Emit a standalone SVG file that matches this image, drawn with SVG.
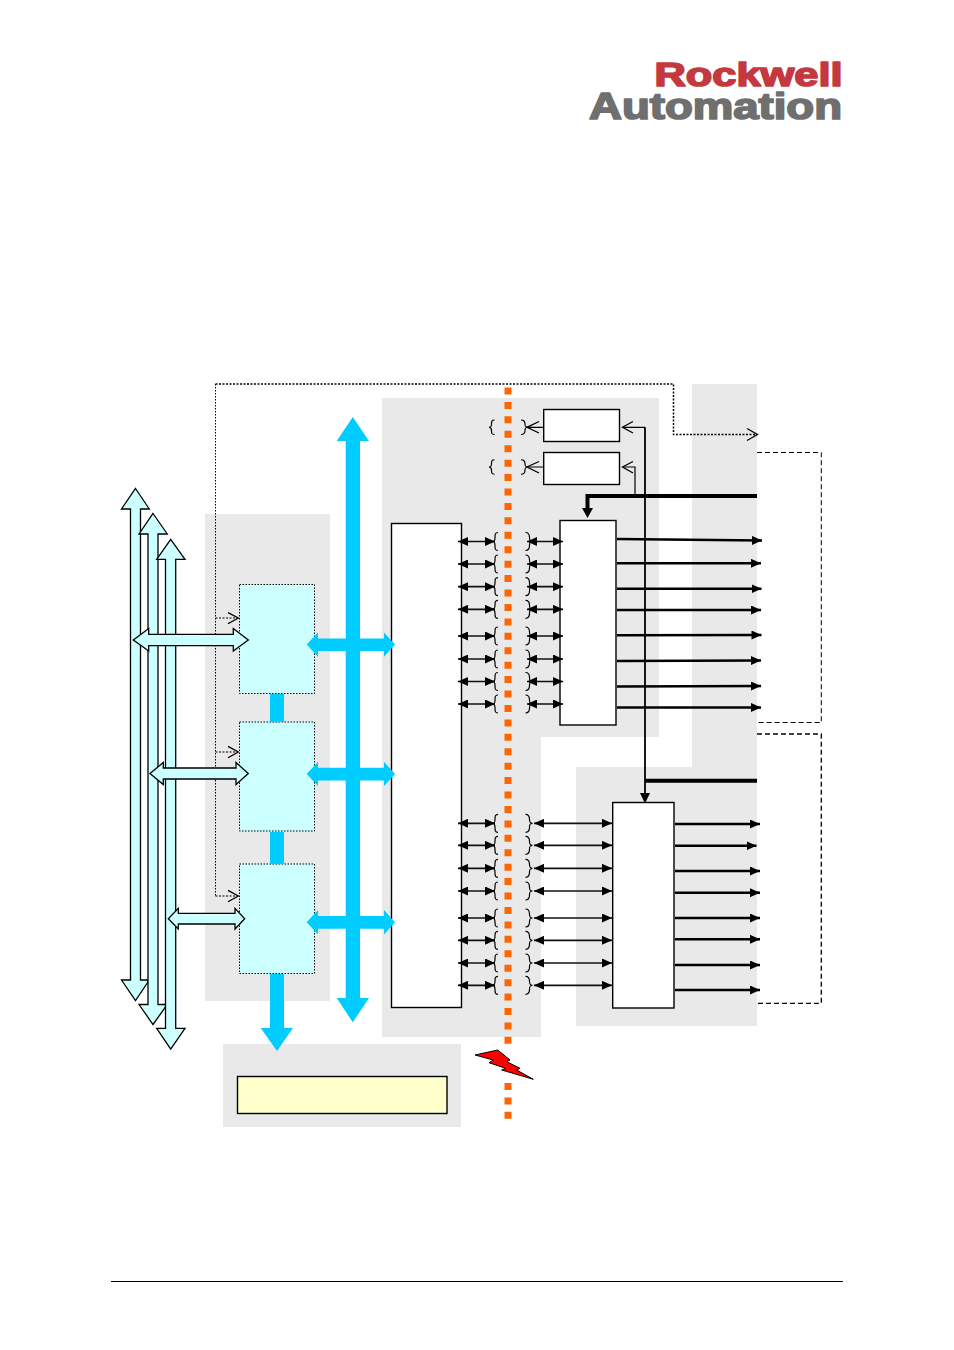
<svg xmlns="http://www.w3.org/2000/svg" width="954" height="1350" viewBox="0 0 954 1350">
<style>
.panel{fill:#e9e9e9}
.box{fill:#fff;stroke:#000;stroke-width:1.4}
.cpu{fill:#ccffff;stroke:#000;stroke-width:1;stroke-dasharray:1.500 1.500}
.bus{fill:#00ccff}
.lightbus{fill:#ccffff;stroke:#000;stroke-width:1.300;stroke-linejoin:miter}
.dbl{fill:none;stroke:#111;stroke-width:1.700;marker-start:url(#solid);marker-end:url(#solid)}
.out{fill:none;stroke:#000;stroke-width:2.500;marker-end:url(#solid)}
.thin{fill:none;stroke:#000;stroke-width:1.200}
.open{fill:none;stroke:#000;stroke-width:1.300}
.dots{fill:none;stroke:#000;stroke-width:1;stroke-dasharray:1.500 1.500}
.dots-heavy{fill:none;stroke:#000;stroke-width:1.500;stroke-dasharray:2 1.500}
.dash{fill:none;stroke:#000;stroke-width:1;stroke-dasharray:5 3}
.barrier{fill:none;stroke:#ff6600;stroke-width:7;stroke-dasharray:7 7.430}
.feed{fill:none;stroke:#000;stroke-width:4}
.brace{fill:none;stroke:#000;stroke-width:1.200}
.logo{font-family:"Liberation Sans",Arial,sans-serif;font-weight:700;stroke-linejoin:round}
</style>
<defs>
<marker id="solid" viewBox="0 0 10 9" refX="10" refY="4.500" markerWidth="10" markerHeight="9" markerUnits="userSpaceOnUse" orient="auto-start-reverse"><path d="M0 0L10 4.500L0 9Z" fill="#000"/></marker>
<path id="bl" d="M498 -9C495 -9 495 -7 495 -4C495 -1 494.500 0 492.500 0C494.500 0 495 1 495 4C495 7 495 9 498 9"/>
<path id="br" d="M525.500 -9C529 -9 529.500 -7 529.500 -4C529.500 -1 530 0 532.500 0C530 0 529.500 1 529.500 4C529.500 7 529 9 525.500 9"/>
</defs>
<rect width="954" height="1350" fill="#fff"/>

<g id="logo">
<text class="logo" x="654.500" y="86" font-size="34" fill="#c4393f" stroke="#c4393f" stroke-width="1.700" textLength="188" lengthAdjust="spacingAndGlyphs">Rockwell</text>
<text class="logo" x="589" y="119" font-size="36" fill="#6f6f6f" stroke="#6f6f6f" stroke-width="1.700" textLength="253" lengthAdjust="spacingAndGlyphs">Automation</text>
</g>

<g id="panels">
<rect class="panel" x="205" y="514" width="125" height="487"/>
<path class="panel" d="M382 398H659V737H541V1037H382Z"/>
<path class="panel" d="M692 384H757V1026H576V767H692Z"/>
<rect class="panel" x="223" y="1044" width="238" height="83"/>
</g>

<g id="isolation-barrier">
<line class="barrier" x1="508" y1="387.500" x2="508" y2="1044.500"/>
<line class="barrier" x1="508" y1="1083" x2="508" y2="1119"/>
</g>

<g id="cpu-a"><rect class="cpu" x="239.500" y="584.500" width="75" height="109"/></g>
<g id="cpu-b"><rect class="cpu" x="239.500" y="722" width="75" height="109"/></g>
<g id="cpu-c"><rect class="cpu" x="239.500" y="864" width="75" height="109.500"/></g>

<g id="logic-block"><rect class="box" x="391.500" y="523.500" width="70" height="484"/></g>
<g id="isolator-a"><rect class="box" x="543.700" y="409.500" width="75.800" height="32"/></g>
<g id="isolator-b"><rect class="box" x="543.700" y="452.500" width="75.800" height="32"/></g>
<g id="driver-upper"><rect class="box" x="560" y="520.500" width="56" height="204.500"/></g>
<g id="driver-lower"><rect class="box" x="612.700" y="802.500" width="61.300" height="205.500"/></g>
<g id="memory-block"><rect x="237.500" y="1076.500" width="209.500" height="37" fill="#ffffcc" stroke="#000" stroke-width="1.400"/></g>

<g id="connectors">
<!-- dotted control line -->
<path class="dots-heavy" d="M215.500 384H673.500V434.500H757"/>
<path class="dots" d="M215.500 384V896"/>
<path class="dots-heavy" style="stroke-width:1.200" d="M215.500 618H238M215.500 752H238M215.500 896H238"/>
<path class="open" d="M228 612.700L238.300 618L228 623.700M228 746.400L238.300 752L228 757.700M228 890.400L238.300 896L228 901.700M747 428.500L757.500 434.500L747 440.500"/>
<!-- dashed enclosures -->
<path class="dash" d="M757 452.500H821.300V722.500H757"/>
<path class="dash" style="stroke-width:1.300" d="M757 734H821.300V1003.300H757"/>

<!-- feed lines -->
<path class="feed" d="M757 496H587.500V509"/>
<path d="M582 508H593L587.500 518Z"/>
<path class="feed" d="M757 780.700H645"/>
<path class="thin" style="stroke-width:1.800" d="M645 427.300V794"/>
<path d="M640 793H650L645 803.500Z"/>
<path class="thin" d="M622.500 427.300H645M622.500 467H635V496"/>
<path class="open" d="M633 421.500L622.500 427.300L633 433M633 461.500L622.500 467L633 473"/>
<path class="thin" d="M527 427.300H543.500M527 467H543.500"/>
<path class="open" d="M539 421.500L527 427.300L539 433M539 461.500L527 467L539 473"/>

<!-- isolated channel links, upper bank -->
<line class="dbl" x1="458" y1="541.500" x2="495" y2="541.500"/><line class="dbl" x1="527" y1="541.500" x2="563" y2="541.500"/>
<line class="dbl" x1="458" y1="564" x2="495" y2="564"/><line class="dbl" x1="527" y1="564" x2="563" y2="564"/>
<line class="dbl" x1="458" y1="586.700" x2="495" y2="586.700"/><line class="dbl" x1="527" y1="586.700" x2="563" y2="586.700"/>
<line class="dbl" x1="458" y1="609.300" x2="495" y2="609.300"/><line class="dbl" x1="527" y1="609.300" x2="563" y2="609.300"/>
<line class="dbl" x1="458" y1="636" x2="495" y2="636"/><line class="dbl" x1="527" y1="636" x2="563" y2="636"/>
<line class="dbl" x1="458" y1="659" x2="495" y2="659"/><line class="dbl" x1="527" y1="659" x2="563" y2="659"/>
<line class="dbl" x1="458" y1="681.500" x2="495" y2="681.500"/><line class="dbl" x1="527" y1="681.500" x2="563" y2="681.500"/>
<line class="dbl" x1="458" y1="704" x2="495" y2="704"/><line class="dbl" x1="527" y1="704" x2="563" y2="704"/>

<!-- isolated channel links, lower bank -->
<line class="dbl" x1="458" y1="823.300" x2="495" y2="823.300"/><line class="dbl" x1="534" y1="823.300" x2="612" y2="823.300"/>
<line class="dbl" x1="458" y1="845.300" x2="495" y2="845.300"/><line class="dbl" x1="534" y1="845.300" x2="612" y2="845.300"/>
<line class="dbl" x1="458" y1="868.300" x2="495" y2="868.300"/><line class="dbl" x1="534" y1="868.300" x2="612" y2="868.300"/>
<line class="dbl" x1="458" y1="891" x2="495" y2="891"/><line class="dbl" x1="534" y1="891" x2="612" y2="891"/>
<line class="dbl" x1="458" y1="918" x2="495" y2="918"/><line class="dbl" x1="534" y1="918" x2="612" y2="918"/>
<line class="dbl" x1="458" y1="940.300" x2="495" y2="940.300"/><line class="dbl" x1="534" y1="940.300" x2="612" y2="940.300"/>
<line class="dbl" x1="458" y1="963" x2="495" y2="963"/><line class="dbl" x1="534" y1="963" x2="612" y2="963"/>
<line class="dbl" x1="458" y1="985.300" x2="495" y2="985.300"/><line class="dbl" x1="534" y1="985.300" x2="612" y2="985.300"/>

<!-- braces -->
<g class="brace">
<use href="#bl" transform="translate(-3.500 427.300) scale(1 .8)"/><use href="#br" transform="translate(-4.500 427.300) scale(1 .8)"/>
<use href="#bl" transform="translate(-3.500 467) scale(1 .8)"/><use href="#br" transform="translate(-4.500 467) scale(1 .8)"/>
<use href="#bl" y="541.500"/><use href="#br" y="541.500"/>
<use href="#bl" y="564"/><use href="#br" y="564"/>
<use href="#bl" y="586.700"/><use href="#br" y="586.700"/>
<use href="#bl" y="609.300"/><use href="#br" y="609.300"/>
<use href="#bl" y="636"/><use href="#br" y="636"/>
<use href="#bl" y="659"/><use href="#br" y="659"/>
<use href="#bl" y="681.500"/><use href="#br" y="681.500"/>
<use href="#bl" y="704"/><use href="#br" y="704"/>
<use href="#bl" y="823.300"/><use href="#br" y="823.300"/>
<use href="#bl" y="845.300"/><use href="#br" y="845.300"/>
<use href="#bl" y="868.300"/><use href="#br" y="868.300"/>
<use href="#bl" y="891"/><use href="#br" y="891"/>
<use href="#bl" y="918"/><use href="#br" y="918"/>
<use href="#bl" y="940.300"/><use href="#br" y="940.300"/>
<use href="#bl" y="963"/><use href="#br" y="963"/>
<use href="#bl" y="985.300"/><use href="#br" y="985.300"/>
</g>

<!-- driver outputs, upper -->
<line class="out" x1="617" y1="539" x2="762" y2="540.500"/>
<line class="out" x1="617" y1="563.300" x2="761" y2="563.300"/>
<line class="out" x1="617" y1="588.700" x2="761.500" y2="588.700"/>
<line class="out" x1="617" y1="610" x2="761" y2="610"/>
<line class="out" x1="617" y1="635.300" x2="761.500" y2="635"/>
<line class="out" x1="617" y1="661" x2="761" y2="660.500"/>
<line class="out" x1="617" y1="686.500" x2="761" y2="686"/>
<line class="out" x1="617" y1="707.500" x2="761" y2="707.500"/>
<!-- driver outputs, lower -->
<line class="out" x1="675" y1="824" x2="760" y2="824"/>
<line class="out" x1="675" y1="845.700" x2="756.500" y2="845.700"/>
<line class="out" x1="675" y1="871" x2="760" y2="871"/>
<line class="out" x1="675" y1="892.700" x2="760" y2="892.700"/>
<line class="out" x1="675" y1="918" x2="760" y2="918"/>
<line class="out" x1="675" y1="939.300" x2="760" y2="939.300"/>
<line class="out" x1="675" y1="965" x2="760" y2="965"/>
<line class="out" x1="675" y1="990" x2="760" y2="990"/>

<!-- field bus channels -->
<path class="lightbus" d="M135.500 488.500L149.300 509H140.500V980H149.300L135.500 1000.500L121.500 980H130.500V509H121.500Z"/>
<path class="lightbus" d="M153 513.500L167.300 534H158V1004.500H167.300L153 1024.500L139 1004.500H148V534H139Z"/>
<path class="lightbus" d="M170.700 539.300L185 559.300H175.700V1028.300H185L170.700 1049L156.700 1028.300H165.500V559.300H156.700Z"/>
<path class="lightbus" d="M133.300 640L148.700 628.500V634.300H233.300V628.500L248.300 640L233.300 651V645.700H148.700V651Z"/>
<path class="lightbus" d="M150 773.500L163.300 762.500V768H236V762.500L248.300 773.500L236 784.500V779H163.300V784.500Z"/>
<path class="lightbus" d="M168.300 918.700L178.300 908.300V913.300H235V908.300L244.700 918.700L235 929V924H178.300V929Z"/>

<!-- internal high-speed buses -->
<path class="bus" d="M352.800 417L369 441H360V998H369L352.800 1022.300L336.700 998H345.700V441H336.700Z"/>
<path class="bus" d="M306.700 644.600L318 632.400V638.400H384V632.400L395 644.600L384 656.700V651H318V656.700Z"/>
<path class="bus" d="M306.700 774L318 761.800V767.800H384V761.800L395 774L384 786.100V780.400H318V786.100Z"/>
<path class="bus" d="M306.700 922.300L318 910.100V916.100H384V910.100L395 922.300L384 934.400V928.700H318V934.400Z"/>
<rect class="bus" x="270" y="694" width="14" height="28"/>
<rect class="bus" x="270" y="832" width="14" height="32"/>
<path class="bus" d="M270 974H284V1028H293L277 1051L260.700 1028H270Z"/>
</g>

<g id="fault-bolt">
<path d="M475 1055L497.700 1050L510 1060L506.700 1061.700L520 1068.300L516.700 1070L533.300 1079.300L501.700 1070L505.700 1068.300L489 1062.700L493.300 1060Z" fill="#ff0000" stroke="#000" stroke-width="1"/>
</g>

<line id="footer-rule" x1="111" y1="1281.500" x2="843" y2="1281.500" stroke="#000" stroke-width="1"/>
</svg>
